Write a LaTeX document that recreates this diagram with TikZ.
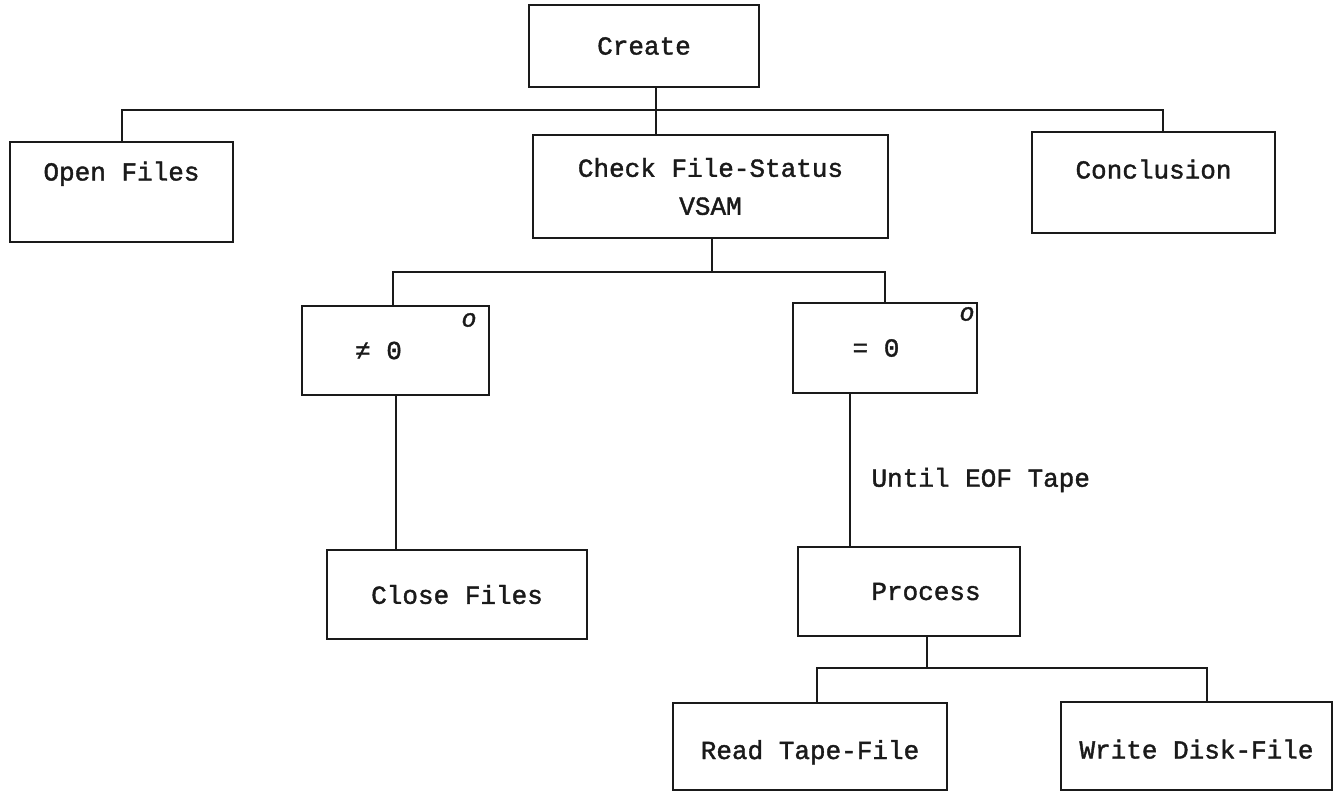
\documentclass[tikz,border=0pt]{standalone}
\usepackage{fontspec}
\usepackage{tikz}
\usetikzlibrary{positioning}
\newfontfamily\typewriter{Liberation Mono}[FakeBold=1.5]
\definecolor{ink}{HTML}{1A1A1A}

\begin{document}
\begin{tikzpicture}[x=1pt, y=-1pt, font=\typewriter\fontsize{26}{38}\selectfont,
    box/.style={draw=ink, text=ink, line width=2.6pt, inner sep=0pt, align=center},
    link/.style={draw=ink, line width=2pt},
    sel/.style={text=ink, inner sep=0pt, font=\typewriter\fontsize{25}{25}\selectfont\itshape}]
  \useasboundingbox (0,0) rectangle (1337,793);
  \node[box, minimum width=230pt, minimum height=82pt] (create) at (644,46) {Create};
  \node[box, minimum width=223pt, minimum height=100pt, text height=16pt, text depth=39pt] (open) at (121.5,192) {Open Files};
  \node[box, minimum width=355pt, minimum height=103pt] (check) at (710.5,186.5) {Check File-Status\\\typewriter VSAM};
  \node[box, minimum width=243pt, minimum height=101pt, text height=16pt, text depth=24pt] (concl) at (1153.5,182.5) {Conclusion};
  \node[box, minimum width=187pt, minimum height=89pt] (ne) at (395.5,350.5) {≠ 0\hspace*{34pt}};
  \node[box, minimum width=184pt, minimum height=90pt] (eq) at (885,348) {= 0\hspace*{18pt}};
  \node[sel] (selne) at (469,320) {o}; \node[sel] (seleq) at (967,314) {o};
  \node[box, minimum width=260pt, minimum height=89pt] (close) at (457,594.5) {Close Files};
  \node[box, minimum width=222pt, minimum height=89pt] (proc) at (909,591.5) {\hspace*{34pt}Process};
  \node[anchor=west, text=ink] (until) at (868,480) {Until EOF Tape};
  \node[box, minimum width=274pt, minimum height=87pt, text height=30pt, text depth=5pt] (read) at (810,746.5) {Read Tape-File};
  \node[box, minimum width=271pt, minimum height=88pt, text height=30pt, text depth=5pt] (write) at (1196.5,746) {Write Disk-File};
  \coordinate (top) at (656,110); \coordinate (mid) at (712,272); \coordinate (low) at (927,668);
  \draw[link] ([xshift=12pt]create.south) -- (top) -- (check.north -| top);
  \draw[link] (open.north) |- (top) -| ([xshift=9.5pt]concl.north);
  \draw[link] (check.south -| mid) -- (mid);
  \draw[link] ([xshift=-2.5pt]ne.north) |- (mid) -| (eq.north);
  \draw[link] (ne.south) -- (ne.south |- close.north);
  \draw[link] ([xshift=-35pt]eq.south) -- ([xshift=-35pt]eq.south |- proc.north);
  \draw[link] (proc.south -| low) -- (low);
  \draw[link] ([xshift=7pt]read.north) |- (low) -| ([xshift=10.5pt]write.north);
\end{tikzpicture}
\end{document}
